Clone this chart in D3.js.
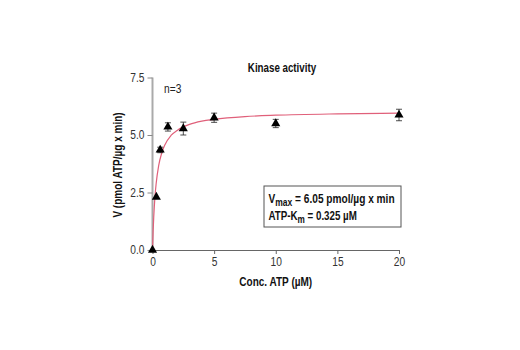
<!DOCTYPE html>
<html>
<head>
<meta charset="utf-8">
<script src="https://cdn.jsdelivr.net/npm/d3@7"></script>
<style>
  body { margin: 0; background: #fff; }
  svg { display: block; font-family: "Liberation Sans", Arial, sans-serif; }
  .axis text { font-size: 12px; fill: #333; }
</style>
</head>
<body>
<svg id="chart"></svg>
<script>
// Measured points (Conc. ATP in µM, V in pmol ATP/µg x min)
const concATP = [0, 0.3125, 0.625, 1.25, 2.5, 5, 10, 20];
const velocity = [0, 2.3, 4.35, 5.35, 5.28, 5.75, 5.5, 5.87];
const errorV = [0, 0, 0.12, 0.18, 0.28, 0.2, 0.18, 0.25];

// Fitted curve
const fitX = [0, 0.05, 0.1, 0.2, 0.3, 0.5, 0.75, 1, 1.5, 2, 3, 4, 5, 7.5, 10, 15, 20];
const fitY = [0, 0.8, 1.42, 2.32, 2.9, 3.67, 4.22, 4.57, 4.98, 5.2, 5.46, 5.6, 5.68, 5.8, 5.86, 5.92, 5.95];

const xTicks = [0, 5, 10, 15, 20];
const yTicks = [0, 2.5, 5, 7.5];

const width = 520, height = 350;
const margin = { top: 77.5, right: 121, bottom: 100, left: 152.5 };
const innerWidth = width - margin.left - margin.right;
const innerHeight = height - margin.top - margin.bottom;

// squeeze text horizontally to mimic the condensed face of the original
function condense(sel, f) {
  sel.each(function() {
    const w = this.getComputedTextLength();
    d3.select(this).attr('textLength', w * f).attr('lengthAdjust', 'spacingAndGlyphs');
  });
}

const svg = d3.select('#chart')
  .attr('width', width)
  .attr('height', height)
  .attr('viewBox', `0 0 ${width} ${height}`);

const xScale = d3.scaleLinear().domain([0, 20]).range([0, innerWidth]);
const yScale = d3.scaleLinear().domain([0, 7.5]).range([innerHeight, 0]);

const g = svg.append('g').attr('transform', `translate(${margin.left}, ${margin.top})`);

// Title
svg.append('text')
  .attr('x', 282)
  .attr('y', 72)
  .attr('text-anchor', 'middle')
  .attr('font-size', '12.5px')
  .attr('font-weight', 'bold')
  .attr('fill', '#111')
  .text('Kinase activity')
  .call(condense, 0.78);

// X axis
const xAxis = g.append('g')
  .attr('class', 'axis')
  .attr('transform', `translate(0, ${innerHeight})`)
  .call(d3.axisBottom(xScale).tickValues(xTicks).tickSize(4).tickPadding(3).tickFormat(d3.format('d')));
xAxis.select('.domain').attr('stroke', '#666').attr('d', `M0,0.5H${innerWidth}`);
xAxis.selectAll('.tick line').attr('stroke', '#666');
xAxis.selectAll('.tick text').call(condense, 0.85);

// Y axis
const yAxis = g.append('g')
  .attr('class', 'axis')
  .call(d3.axisLeft(yScale).tickValues(yTicks).tickSize(5).tickPadding(3).tickFormat(d3.format('.1f')));
yAxis.select('.domain').attr('stroke', '#aaa').attr('stroke-width', 2).attr('d', `M0,0V${innerHeight}`);
yAxis.selectAll('.tick line').attr('stroke', '#888');
yAxis.selectAll('.tick text').call(condense, 0.85);

// Axis labels
g.append('text')
  .attr('transform', 'rotate(-90)')
  .attr('x', -87.5)
  .attr('y', -31)
  .attr('text-anchor', 'middle')
  .attr('font-size', '12.5px')
  .attr('font-weight', 'bold')
  .attr('fill', '#111')
  .text('V (pmol ATP/µg x min)')
  .call(condense, 0.8);

g.append('text')
  .attr('x', xScale(10))
  .attr('y', innerHeight + 35.5)
  .attr('text-anchor', 'middle')
  .attr('font-size', '12.5px')
  .attr('font-weight', 'bold')
  .attr('fill', '#111')
  .text('Conc. ATP (µM)')
  .call(condense, 0.8);

// n=3
g.append('text')
  .attr('x', 11.5)
  .attr('y', 15)
  .attr('font-size', '12px')
  .attr('fill', '#222')
  .text('n=3')
  .call(condense, 0.85);

// Fit curve
const fitData = fitX.map((x, i) => ({ x, y: fitY[i] }));
g.append('path')
  .datum(fitData)
  .attr('fill', 'none')
  .attr('stroke', '#e0607a')
  .attr('stroke-width', 1.2)
  .attr('d', d3.line().x(d => xScale(d.x)).y(d => yScale(d.y)).curve(d3.curveMonotoneX));

// Points with error bars
const points = concATP.map((x, i) => ({ x, y: velocity[i], e: errorV[i] }));
const pg = g.selectAll('.pt').data(points).join('g').attr('class', 'pt');

pg.filter(d => d.e > 0).each(function(d) {
  const s = d3.select(this);
  const cx = xScale(d.x);
  s.append('line')
    .attr('x1', cx).attr('x2', cx)
    .attr('y1', yScale(d.y + d.e)).attr('y2', yScale(d.y - d.e))
    .attr('stroke', '#222').attr('stroke-width', 0.8);
  [d.y + d.e, d.y - d.e].forEach(v => {
    s.append('line')
      .attr('x1', cx - 3).attr('x2', cx + 3)
      .attr('y1', yScale(v)).attr('y2', yScale(v))
      .attr('stroke', '#222').attr('stroke-width', 0.8);
  });
});

pg.append('path')
  .attr('d', d3.symbol().type(d3.symbolTriangle).size(36))
  .attr('transform', d => `translate(${xScale(d.x)}, ${yScale(d.y)})`)
  .attr('fill', '#000');

// Parameter box
const box = g.append('g').attr('transform', `translate(${264 - margin.left}, ${186 - margin.top})`);
box.append('rect')
  .attr('width', 137)
  .attr('height', 41)
  .attr('fill', '#fff')
  .attr('stroke', '#555')
  .attr('stroke-width', 1);

const t1 = box.append('text')
  .attr('x', 4.5).attr('y', 17)
  .attr('font-size', '12.5px').attr('font-weight', 'bold').attr('fill', '#111');
t1.append('tspan').text('V');
t1.append('tspan').attr('font-size', '10.5px').attr('dy', 3).text('max');
t1.append('tspan').attr('dy', -3).text(' = 6.05 pmol/µg x min');
t1.call(condense, 0.81);

const t2 = box.append('text')
  .attr('x', 4.5).attr('y', 34)
  .attr('font-size', '12.5px').attr('font-weight', 'bold').attr('fill', '#111');
t2.append('tspan').text('ATP-K');
t2.append('tspan').attr('font-size', '10.5px').attr('dy', 3).text('m');
t2.append('tspan').attr('dy', -3).text(' = 0.325 µM');
t2.call(condense, 0.78);
</script>
</body>
</html>
